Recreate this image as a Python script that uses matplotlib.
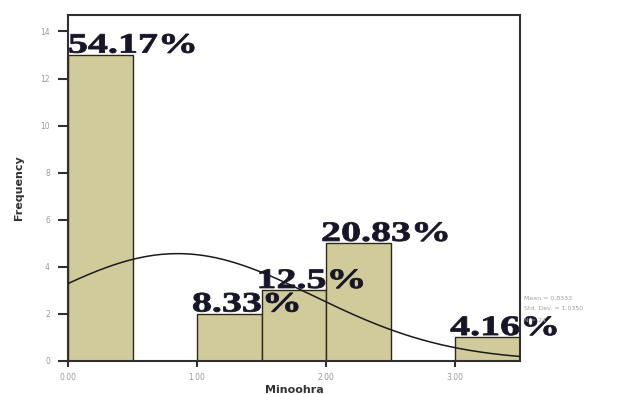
import matplotlib.pyplot as plt
import matplotlib.transforms as mtransforms
from matplotlib.font_manager import FontProperties
from matplotlib.patches import PathPatch
from matplotlib.textpath import TextPath
import numpy as np

# histogram of Minoohra (bin width 0.5)
bin_edges = [0.0, 0.5, 1.0, 1.5, 2.0, 2.5, 3.0, 3.5]
counts = [13, 0, 2, 3, 5, 0, 1]
pct_labels = ['54.17%', '', '8.33%', '12.5%', '20.83%', '', '4.16%']

# normal curve parameters as printed by SPSS
mean_val = 0.85
std_val = 1.05
n_val = 24

x_ticks = [0, 1, 2, 3]
x_ticklabels = ['0.00', '1.00', '2.00', '3.00']
y_ticks = [0, 2, 4, 6, 8, 10, 12, 14]

fig = plt.figure(figsize=(6.41, 3.94), dpi=100)
ax = fig.add_axes([0.106, 0.084, 0.705, 0.878])

widths = np.diff(bin_edges)
ax.bar(bin_edges[:-1], counts, width=widths, align='edge',
       color='#d1ca9b', edgecolor='#2a2a1a', linewidth=1.0, zorder=2)

ax.set_xlim(0, 3.5)
ax.set_ylim(0, 14.7)

# percentage labels: bold serif, stretched wide like the scanned original
fp = FontProperties(family='Liberation Serif', weight='bold')
for left, c, lab in zip(bin_edges[:-1], counts, pct_labels):
    if not lab:
        continue
    tp = TextPath((0, 0), lab, size=1, prop=fp)
    tr = (mtransforms.Affine2D().scale(40, 28)
          + mtransforms.ScaledTranslation(max(left - 0.04, 0), c + 0.1, ax.transData))
    ax.add_patch(PathPatch(tp, transform=tr, facecolor='#161628',
                           edgecolor='#161628', linewidth=0.6, zorder=3, clip_on=False))

xs = np.linspace(0, 3.5, 200)
scale = n_val * 0.5
ys = scale / (std_val * np.sqrt(2 * np.pi)) * np.exp(-0.5 * ((xs - mean_val) / std_val) ** 2)
ax.plot(xs, ys, color='#1a1a1a', linewidth=1.1, zorder=4)

ax.set_xticks(x_ticks)
ax.set_xticklabels(x_ticklabels)
ax.set_yticks(y_ticks)
ax.tick_params(axis='both', direction='out', width=1.5,
               labelsize=5.5, labelcolor='#9a9a9a', color='#303030')
ax.tick_params(axis='y', length=7, pad=6)
ax.tick_params(axis='x', length=4, pad=5)
for s in ax.spines.values():
    s.set_linewidth(1.5)
    s.set_color('#303030')

ax.set_xlabel('Minoohra', fontsize=8, fontweight='bold', color='#333333', labelpad=2)
ax.set_ylabel('Frequency', fontsize=8, fontweight='bold', color='#333333', labelpad=12)

stats = ['Mean = 0.8333', 'Std. Dev. = 1.0350', 'N = 24']
for i, t in enumerate(stats):
    fig.text(0.817, 1 - (298 + 11 * i) / 394, t, fontsize=4.5, color='#a0a0a0',
             va='center', ha='left')

fig.savefig('out.png', dpi=100)
